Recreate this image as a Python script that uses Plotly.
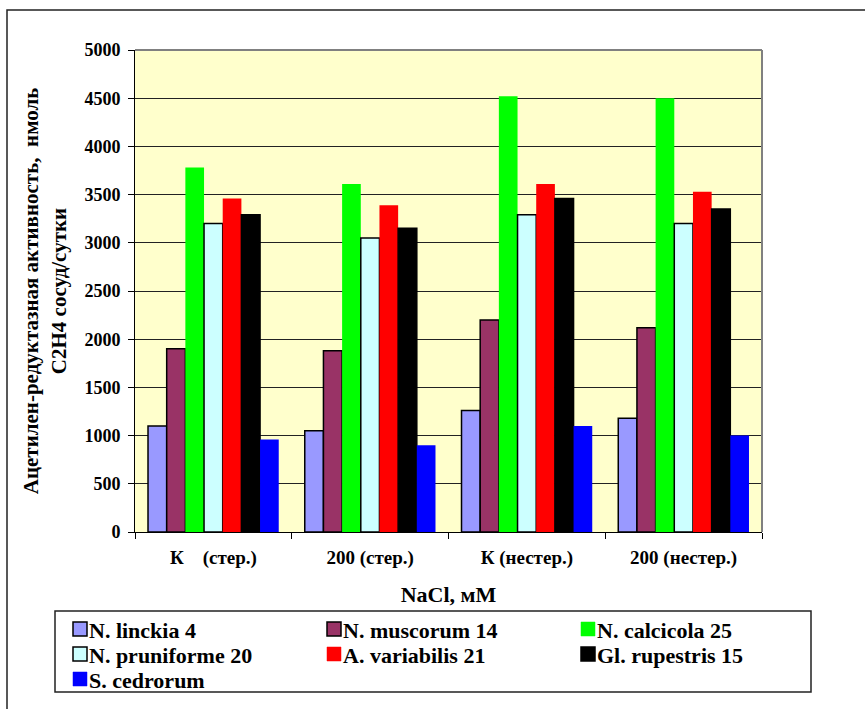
import plotly.graph_objects as go

# Groups along the x axis (NaCl concentration, sterile / non-sterile soil)
categories = ["К\u00a0\u00a0\u00a0\u00a0(стер.)", "200 (стер.)", "К (нестер.)", "200 (нестер.)"]

# Acetylene-reduction activity per strain, nmol C2H4 per vessel per day
n_linckia = [1100, 1050, 1260, 1180]
n_muscorum = [1900, 1880, 2200, 2120]
n_calcicola = [3780, 3610, 4520, 4500]
n_pruniforme = [3200, 3050, 3290, 3200]
a_variabilis = [3460, 3390, 3610, 3530]
gl_rupestris = [3290, 3150, 3460, 3350]
s_cedrorum = [960, 900, 1100, 1000]

series = [
    ("N. linckia 4", n_linckia, "#9999FF", 1.5),
    ("N. muscorum 14", n_muscorum, "#993366", 1.5),
    ("N. calcicola 25", n_calcicola, "#00FF00", 0),
    ("N. pruniforme 20", n_pruniforme, "#CCFFFF", 1.5),
    ("A. variabilis 21", a_variabilis, "#FF0000", 0),
    ("Gl. rupestris 15", gl_rupestris, "#000000", 1.5),
    ("S. cedrorum", s_cedrorum, "#0000FF", 0),
]

FONT = "Liberation Serif"

fig = go.Figure()
for name, vals, color, lw in series:
    fig.add_trace(go.Bar(
        name=name, x=categories, y=vals, showlegend=False,
        marker=dict(color=color, line=dict(color="#000000", width=lw)),
    ))

W, H = 865, 709
L, R, T, B = 135, 103, 50, 177
pw, ph = W - L - R, H - T - B


def px_x(x):
    return (x - L) / pw


def px_y(y):
    return (H - B - y) / ph


shapes = [
    # gray frame on the top and right of the plotting area
    dict(type="line", xref="paper", yref="paper", x0=0, x1=1, y0=1, y1=1,
         line=dict(color="#808080", width=2)),
    dict(type="line", xref="paper", yref="paper", x0=1, x1=1, y0=0, y1=1,
         line=dict(color="#808080", width=2)),
    # outer frame around the whole chart
    dict(type="rect", xref="paper", yref="paper",
         x0=px_x(7), x1=px_x(880), y0=px_y(10), y1=px_y(720),
         line=dict(color="#222222", width=1.5)),
    # legend box
    dict(type="rect", xref="paper", yref="paper",
         x0=px_x(55), x1=px_x(811), y0=px_y(611), y1=px_y(692),
         line=dict(color="#222222", width=1.5), fillcolor="white"),
]
annotations = []

# legend: three columns, filled row by row
col_x = [73, 327, 581]
row_y = [629, 654, 679]
sw = 14
for i, (name, vals, color, lw) in enumerate(series):
    cx = col_x[i % 3]
    cy = row_y[i // 3]
    shapes.append(dict(
        type="rect", xref="paper", yref="paper",
        x0=px_x(cx), x1=px_x(cx + sw), y0=px_y(cy - sw / 2), y1=px_y(cy + sw / 2),
        fillcolor=color,
        line=dict(color="#000000" if lw else color, width=1.5 if lw else 0.5),
    ))
    annotations.append(dict(
        xref="paper", yref="paper", x=px_x(cx + sw + 1), y=px_y(cy + 1),
        xanchor="left", yanchor="middle", showarrow=False, text=name,
        borderpad=0,
        font=dict(family=FONT, size=22, color="black", weight="bold"),
    ))

fig.update_layout(
    width=W, height=H,
    margin=dict(l=L, r=R, t=T, b=B, pad=0, autoexpand=False),
    paper_bgcolor="white",
    plot_bgcolor="#FFFFCC",
    barmode="group",
    bargap=0.166,
    bargroupgap=0,
    font=dict(family=FONT, color="black", size=18, weight="bold"),
    showlegend=False,
    xaxis=dict(
        type="category",
        showgrid=False,
        showline=True, linecolor="black", linewidth=1,
        ticks="outside", tickson="boundaries", ticklen=6, tickcolor="black",
        tickfont=dict(family=FONT, size=19, weight="bold"),
        ticklabelstandoff=8,
        title=dict(text="NaCl, мМ", font=dict(family=FONT, size=22, weight="bold"), standoff=18),
    ),
    yaxis=dict(
        range=[0, 5000],
        tickvals=[0, 500, 1000, 1500, 2000, 2500, 3000, 3500, 4000, 4500, 5000],
        showgrid=True, gridcolor="#222222", gridwidth=1,
        showline=True, linecolor="black", linewidth=1,
        ticks="outside", ticklen=6, tickcolor="black",
        tickfont=dict(family=FONT, size=18, weight="bold"),
        ticklabelstandoff=4,
        zeroline=False,
        title=dict(
            text="Ацетилен-редуктазная активность,  нмоль<br>С2Н4 сосуд/сутки",
            font=dict(family=FONT, size=21, weight="bold"),
            standoff=12,
        ),
    ),
    shapes=shapes,
    annotations=annotations,
)

fig.write_html("out.html")
